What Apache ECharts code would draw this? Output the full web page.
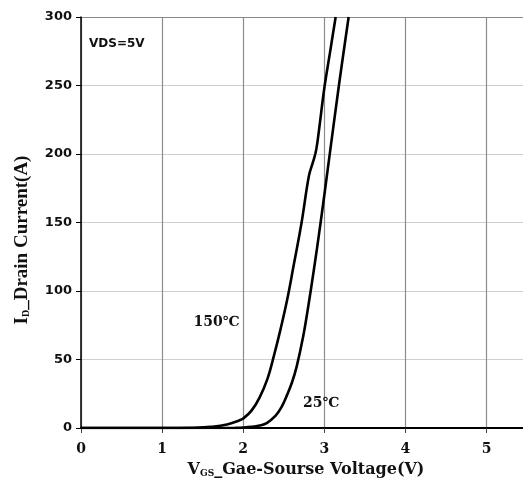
<!DOCTYPE html>
<html>
<head>
<meta charset="utf-8">
<script src="https://cdn.jsdelivr.net/npm/echarts@6/dist/echarts.min.js"></script>
<style>
  html, body { margin: 0; padding: 0; background: #fff; }
  #chart { width: 523px; height: 494px; }
</style>
</head>
<body>
<div id="chart"></div>
<script>
// Transfer characteristics: drain current vs gate-source voltage, VDS = 5 V
const vgs150 = [0, 1.0, 1.4, 1.6, 1.8, 1.95, 2.0, 2.1,  2.2, 2.3, 2.38, 2.46, 2.54, 2.62, 2.72, 2.81, 2.86, 2.90, 2.94, 3.00, 3.07, 3.14];
const id150  = [0, 0,   0.2, 0.8, 2.5, 5.5,  7,   12.5, 22,  36,  53,   72,   93,   118,  150,  184,  194,  203,  220,  248,  274,  300];

const vgs25 = [0, 1.6, 1.9, 2.0, 2.1, 2.2, 2.29, 2.4, 2.47, 2.54, 2.6, 2.66, 2.74, 2.80, 2.87, 2.95, 3.045, 3.18, 3.30];
const id25  = [0, 0,   0.1, 0.3, 0.8, 1.8, 3.6,  9,   15,   24,   33,  45,   67,   88,   115,  148,  190,   250,  300];

const xTicks = [0, 1, 2, 3, 4, 5];
const yTicks = [0, 50, 100, 150, 200, 250, 300];

const curveLabels = [
  { text: '150\u2103', v: 1.67, i: 77 },
  { text: '25\u2103',  v: 2.96, i: 18 }
];

const pairs = (xs, ys) => xs.map((x, k) => [x, ys[k]]);

const chart = echarts.init(document.getElementById('chart'), null, { renderer: 'canvas' });

const serif = 'DejaVu Serif';
const sans = 'DejaVu Sans';

const curveStyle = { color: '#000', width: 2.6 };

chart.setOption({
  animation: false,
  backgroundColor: '#fff',
  grid: { left: 81, top: 17, right: 0, bottom: 66 },
  xAxis: {
    type: 'value',
    min: xTicks[0],
    max: 5.45,
    interval: 1,
    axisLine: { onZero: false, lineStyle: { color: '#000', width: 2 } },
    axisTick: { show: true, length: 5, lineStyle: { color: '#444', width: 1 } },
    axisLabel: {
      margin: 14,
      color: '#111',
      fontFamily: serif,
      fontWeight: 'bold',
      fontSize: 14,
      showMaxLabel: false,
      formatter: v => (xTicks.includes(v) ? String(v) : '')
    },
    splitLine: { show: true, showMaxLine: false, lineStyle: { color: '#8c8c8c', width: 1.2 } }
  },
  yAxis: {
    type: 'value',
    min: yTicks[0],
    max: yTicks[yTicks.length - 1],
    interval: 50,
    axisLine: { show: true, lineStyle: { color: '#000', width: 1.5 } },
    axisTick: { show: true, length: 5, lineStyle: { color: '#000', width: 1 } },
    axisLabel: {
      margin: 9,
      color: '#111',
      fontFamily: sans,
      fontWeight: 'bold',
      fontSize: 13
    },
    splitLine: {
      show: true,
      lineStyle: { color: ['#cfcfcf', '#cfcfcf', '#cfcfcf', '#cfcfcf', '#cfcfcf', '#cfcfcf', '#8a8a8a'], width: 1.2 }
    }
  },
  series: [
    {
      name: '150\u2103',
      type: 'line',
      data: pairs(vgs150, id150),
      smooth: 0.4,
      showSymbol: false,
      clip: true,
      lineStyle: curveStyle
    },
    {
      name: '25\u2103',
      type: 'line',
      data: pairs(vgs25, id25),
      smooth: 0.4,
      showSymbol: false,
      clip: true,
      lineStyle: curveStyle
    }
  ]
});

// Curve annotations placed in data coordinates
const annotations = curveLabels.map(c => {
  const p = chart.convertToPixel({ gridIndex: 0 }, [c.v, c.i]);
  return {
    type: 'text',
    x: p[0], y: p[1],
    style: {
      text: c.text,
      fill: '#111',
      font: 'bold 14px "' + serif + '"',
      textAlign: 'center',
      textVerticalAlign: 'middle'
    }
  };
});

chart.setOption({
  graphic: [
    {
      type: 'text',
      x: 89, y: 44,
      style: {
        text: 'VDS=5V',
        fill: '#111',
        font: 'bold 12px "' + sans + '"',
        textVerticalAlign: 'middle'
      }
    },
    ...annotations,
    {
      type: 'text',
      x: 306, y: 470,
      style: {
        text: '{m|V}{s|GS}{m|_Gae-Sourse Voltage(V)}',
        textAlign: 'center',
        textVerticalAlign: 'middle',
        rich: {
          m: { font: 'bold 16px "' + serif + '"', fill: '#111', verticalAlign: 'bottom' },
          s: { font: 'bold 9px "' + serif + '"', fill: '#111', verticalAlign: 'bottom' }
        }
      }
    },
    {
      type: 'text',
      x: 22, y: 240,
      rotation: Math.PI / 2,
      style: {
        text: '{m|I}{s|D}{m|_Drain Current(A)}',
        textAlign: 'center',
        textVerticalAlign: 'middle',
        rich: {
          m: { font: 'bold 19px "Liberation Serif"', fill: '#111', verticalAlign: 'bottom' },
          s: { font: 'bold 10px "Liberation Serif"', fill: '#111', verticalAlign: 'bottom' }
        }
      }
    }
  ]
});
</script>
</body>
</html>
